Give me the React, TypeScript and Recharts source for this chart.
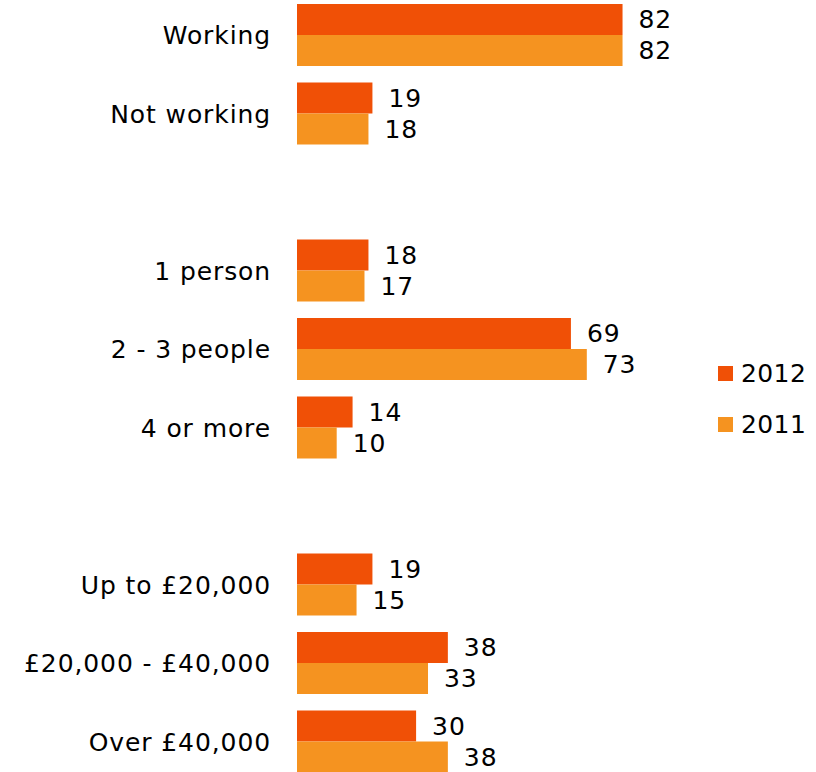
import { BarChart, Bar, XAxis, YAxis, Legend, LabelList } from "recharts";

const categories = [
  "Working",
  "Not working",
  " ",
  "1 person",
  "2 - 3 people",
  "4 or more",
  "  ",
  "Up to £20,000",
  "£20,000 - £40,000",
  "Over £40,000",
];
const values2012: (number | null)[] = [82, 19, null, 18, 69, 14, null, 19, 38, 30];
const values2011: (number | null)[] = [82, 18, null, 17, 73, 10, null, 15, 33, 38];

const data = categories.map((name, i) => ({
  name,
  y2012: values2012[i],
  y2011: values2011[i],
}));

const FONT = "'DejaVu Sans', Verdana, sans-serif";
const C2012 = "#F05006";
const C2011 = "#F59320";
const textStyle = { fill: "#000", fontSize: 25, fontFamily: FONT, letterSpacing: 0.9 };

const LegendBox = () => (
  <div style={{ fontFamily: FONT, fontSize: 25, color: "#000", letterSpacing: 0.4 }}>
    {[
      { label: "2012", color: C2012 },
      { label: "2011", color: C2011 },
    ].map((it) => (
      <div
        key={it.label}
        style={{ display: "flex", alignItems: "center", height: 51 }}
      >
        <span
          style={{
            display: "inline-block",
            width: 15,
            height: 15,
            background: it.color,
            marginRight: 8,
          }}
        />
        <span>{it.label}</span>
      </div>
    ))}
  </div>
);

export default function App() {
  return (
    <div
      style={{
        position: "fixed",
        top: 0,
        left: 0,
        width: 816,
        height: 772,
        overflow: "hidden",
        background: "#fff",
      }}
    >
      <div style={{ position: "absolute", top: -4, left: 0 }}>
        <BarChart
          width={816}
          height={785}
          data={data}
          layout="vertical"
          margin={{ top: 0, right: 122, bottom: 0, left: 0 }}
          barGap={0}
          barSize={31}
        >
          <XAxis type="number" domain={[0, 100]} hide />
          <YAxis
            type="category"
            dataKey="name"
            width={297}
            axisLine={false}
            tickLine={false}
            tickSize={0}
            tickMargin={26}
            interval={0}
            tick={textStyle}
          />
          <Legend
            layout="vertical"
            align="center"
            verticalAlign="middle"
            content={<LegendBox />}
            wrapperStyle={{ left: 718, top: 352, width: 98 }}
          />
          <Bar dataKey="y2012" fill={C2012} isAnimationActive={false}>
            <LabelList dataKey="y2012" position="right" offset={16} style={textStyle} />
          </Bar>
          <Bar dataKey="y2011" fill={C2011} isAnimationActive={false}>
            <LabelList dataKey="y2011" position="right" offset={16} style={textStyle} />
          </Bar>
        </BarChart>
      </div>
    </div>
  );
}
